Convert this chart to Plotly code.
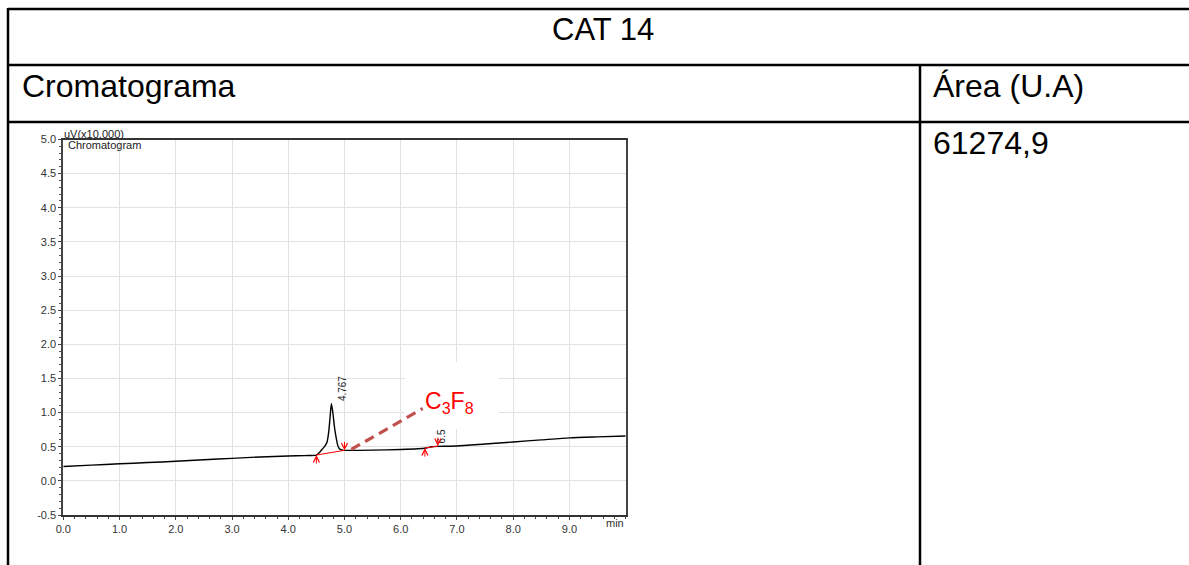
import plotly.graph_objects as go

# ---- chromatogram signal (uV x10,000 vs. retention time in min) ----
time_min = [0.0, 0.5, 1.0, 1.5, 2.0, 2.5, 3.0, 3.5, 4.0, 4.3, 4.5, 4.55, 4.6, 4.65,
            4.69, 4.72, 4.745, 4.767, 4.79, 4.82, 4.85, 4.88, 4.91, 4.95, 5.0,
            5.5, 6.0, 6.3, 6.45, 6.55, 6.65, 7.0, 7.5, 8.0, 8.5, 9.0, 9.5, 10.0]
signal = [0.21, 0.23, 0.25, 0.268, 0.287, 0.31, 0.33, 0.35, 0.365, 0.37, 0.378, 0.41,
          0.46, 0.51, 0.57, 0.72, 0.95, 1.13, 1.02, 0.80, 0.64, 0.52, 0.47, 0.452,
          0.447, 0.45, 0.46, 0.47, 0.482, 0.50, 0.505, 0.51, 0.54, 0.57, 0.60,
          0.63, 0.645, 0.658]

# integration baselines (start/end time and level) for each detected peak
peak_rt = [4.767, 6.5]
peak_label = ["4.767", "6.5"]
peak_top = [1.13, 0.51]
label_shift = [3, 5]
base_start_t = [4.5, 6.43]
base_start_y = [0.378, 0.48]
base_end_t = [5.0, 6.66]
base_end_y = [0.447, 0.51]

# pointer from the main peak to the compound name
pointer_t = [5.12, 6.39]
pointer_y = [0.46, 1.06]
compound = "C<sub>3</sub>F<sub>8</sub>"

# table contents
title_text = "CAT 14"
col1_header = "Cromatograma"
col2_header = "Área (U.A)"
area_value = "61274,9"

x_ticks = [0, 1, 2, 3, 4, 5, 6, 7, 8, 9]
x_tick_text = ["0.0", "1.0", "2.0", "3.0", "4.0", "5.0", "6.0", "7.0", "8.0", "9.0"]
y_ticks = [-0.5, 0.0, 0.5, 1.0, 1.5, 2.0, 2.5, 3.0, 3.5, 4.0, 4.5, 5.0]
y_tick_text = ["-0.5", "0.0", "0.5", "1.0", "1.5", "2.0", "2.5", "3.0", "3.5", "4.0",
               "4.5", "5.0"]

W, H = 1189, 565
FONT = "Liberation Sans, Arial, sans-serif"


def px_x(p):
    return p / W


def px_y(p):
    return 1 - p / H


fig = go.Figure()

# chromatogram trace
fig.add_trace(go.Scatter(x=time_min, y=signal, mode="lines",
                         line=dict(color="black", width=1.4, shape="spline", smoothing=0.6),
                         hoverinfo="skip", showlegend=False))

# red integration baselines
for t0, y0, t1, y1 in zip(base_start_t, base_start_y, base_end_t, base_end_y):
    fig.add_trace(go.Scatter(x=[t0, t1], y=[y0, y1], mode="lines",
                             line=dict(color="red", width=1),
                             hoverinfo="skip", showlegend=False))

# dashed pointer line
fig.add_trace(go.Scatter(x=pointer_t, y=pointer_y, mode="lines",
                         line=dict(color="#c0504d", width=3.2, dash="10px,6px"),
                         hoverinfo="skip", showlegend=False))

shapes = []
# white backing behind the compound label (hides the grid there)
shapes.append(dict(type="rect", xref="x", yref="y", x0=6.07, x1=7.74, y0=0.76, y1=1.74,
                   fillcolor="white", line=dict(width=0), layer="between"))

# table borders
tl = dict(color="black", width=2.5)
shapes += [
    dict(type="line", xref="paper", yref="paper", x0=px_x(8), x1=1.0, y0=px_y(9), y1=px_y(9), line=tl),
    dict(type="line", xref="paper", yref="paper", x0=px_x(8), x1=1.0, y0=px_y(65), y1=px_y(65), line=tl),
    dict(type="line", xref="paper", yref="paper", x0=px_x(8), x1=1.0, y0=px_y(122), y1=px_y(122), line=tl),
    dict(type="line", xref="paper", yref="paper", x0=px_x(8), x1=px_x(8), y0=px_y(8), y1=0.0, line=tl),
    dict(type="line", xref="paper", yref="paper", x0=px_x(920), x1=px_x(920), y0=px_y(65), y1=0.0, line=tl),
]

annotations = []
# table text
annotations += [
    dict(text=title_text, xref="paper", yref="paper", x=px_x(603), y=px_y(30),
         xanchor="center", yanchor="middle", showarrow=False,
         font=dict(family=FONT, size=31, color="black")),
    dict(text=col1_header, xref="paper", yref="paper", x=px_x(20), y=px_y(86),
         xanchor="left", yanchor="middle", showarrow=False,
         font=dict(family=FONT, size=32, color="black")),
    dict(text=col2_header, xref="paper", yref="paper", x=px_x(931), y=px_y(86),
         xanchor="left", yanchor="middle", showarrow=False,
         font=dict(family=FONT, size=32, color="black")),
    dict(text=area_value, xref="paper", yref="paper", x=px_x(931), y=px_y(143),
         xanchor="left", yanchor="middle", showarrow=False,
         font=dict(family=FONT, size=32, color="black")),
]

# chart captions
annotations += [
    dict(text="uV(x10,000)", xref="paper", yref="paper", x=px_x(62), y=px_y(134),
         xanchor="left", yanchor="middle", showarrow=False,
         font=dict(family=FONT, size=11, color="#222")),
    dict(text="Chromatogram", xref="paper", yref="paper", x=px_x(66), y=px_y(144.5),
         xanchor="left", yanchor="middle", showarrow=False,
         font=dict(family=FONT, size=11, color="#222")),
    dict(text="min", xref="x", yref="paper", x=10, y=px_y(523),
         xanchor="right", yanchor="middle", showarrow=False,
         font=dict(family=FONT, size=11, color="#333")),
]

# rotated retention-time labels
for rt, lab, top, sh in zip(peak_rt, peak_label, peak_top, label_shift):
    annotations.append(dict(text=lab, x=rt, y=top, xref="x", yref="y",
                            xanchor="left", yanchor="bottom", textangle=-90,
                            xshift=sh, yshift=1, showarrow=False,
                            font=dict(family=FONT, size=10, color="#222")))

# integration start (up) / end (down) markers
for t0, y0 in zip(base_start_t, base_start_y):
    annotations.append(dict(x=t0, y=y0, xref="x", yref="y", ax=0, ay=10,
                            showarrow=True, arrowhead=5, arrowsize=1.2,
                            arrowwidth=1, arrowcolor="red", text=""))
for t1, y1 in zip(base_end_t, base_end_y):
    annotations.append(dict(x=t1, y=y1, xref="x", yref="y", ax=0, ay=-10,
                            showarrow=True, arrowhead=5, arrowsize=1.2,
                            arrowwidth=1, arrowcolor="red", text=""))

# compound label
annotations.append(dict(text=compound, x=6.40, y=1.06, xref="x", yref="y",
                        xanchor="left", yanchor="middle", yshift=6, showarrow=False,
                        font=dict(family=FONT, size=23, color="red")))

fig.update_layout(
    width=W, height=H,
    margin=dict(l=0, r=0, t=0, b=0, autoexpand=False),
    paper_bgcolor="white", plot_bgcolor="white",
    showlegend=False,
    shapes=shapes,
    annotations=annotations,
    xaxis=dict(domain=[63.3 / W, 625.7 / W], range=[0, 10], tickvals=x_ticks,
               ticktext=x_tick_text, ticks="outside", ticklen=3, tickcolor="#444",
               showline=True, linecolor="#333", linewidth=1.5, mirror=True,
               showgrid=True, gridcolor="#e2e2e2", gridwidth=1, zeroline=False,
               tickfont=dict(family=FONT, size=11, color="#333"),
               minor=dict(dtick=0.2, ticks="outside", ticklen=2, tickcolor="#444",
                          showgrid=False),
               automargin=False, fixedrange=True),
    yaxis=dict(domain=[(H - 515) / H, (H - 139.5) / H], range=[-0.5, 5.0],
               tickvals=y_ticks, ticktext=y_tick_text, ticks="outside", ticklen=3,
               tickcolor="#444",
               showline=True, linecolor="#444", linewidth=2, mirror=True,
               showgrid=True, gridcolor="#e2e2e2", gridwidth=1, zeroline=False,
               tickfont=dict(family=FONT, size=11, color="#333"),
               minor=dict(dtick=0.1, ticks="outside", ticklen=2, tickcolor="#555",
                          showgrid=False),
               automargin=False, fixedrange=True),
)

fig.write_html("out.html")
